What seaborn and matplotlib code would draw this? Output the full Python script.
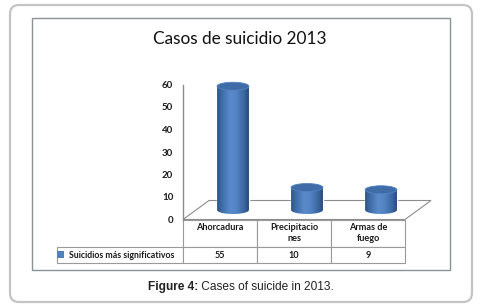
import numpy as np
import pandas as pd
import seaborn as sns
import matplotlib.pyplot as plt
from matplotlib.patches import Ellipse, Polygon, Rectangle, FancyBboxPatch
from matplotlib.transforms import offset_copy, IdentityTransform
from matplotlib.colors import LinearSegmentedColormap

# Datos del gráfico
categories = ["Ahorcadura", "Precipitaciones", "Armas de fuego"]
col_labels = ["Ahorcadura\n", "Precipitacio\nnes", "Armas de\nfuego"]
values = [55, 10, 9]
series_name = "Suicidios más significativos"
yticks = [0, 10, 20, 30, 40, 50, 60]
title = "Casos de suicidio 2013"
caption_bold = "Figure 4:"
caption_rest = " Cases of suicide in 2013."

sns.set_style("white")
plt.rcParams['font.family'] = ['Lato', 'DejaVu Sans']

W, H = 480, 307
fig = plt.figure(figsize=(W / 100, H / 100), dpi=100)


def box(x0, y0, x1, y1):
    # caja en pixeles (origen arriba a la izquierda) -> fracción de figura
    return [x0 / W, 1 - y1 / H, (x1 - x0) / W, (y1 - y0) / H]


# marcos exteriores
fig.patches.append(FancyBboxPatch((10, H - 302), 462, 297, boxstyle="round,pad=0,rounding_size=9",
                                  transform=IdentityTransform(), fc="none", ec="#c4c4c4", lw=1.6))
fig.patches.append(Rectangle((32, H - 270), 418, 252, transform=IdentityTransform(),
                             fc="none", ec="#8c9396", lw=1.0))

AX_W, AX_H = 222, 135
ax = fig.add_axes(box(183, 84.5, 183 + AX_W, 84.5 + AX_H))
df = pd.DataFrame({"cat": categories, "val": values})
sns.barplot(data=df, x="cat", y="val", ax=ax, color="#4F81BD", width=0.43, saturation=1)
ax.set_xlim(-0.5, 2.5)
ax.set_ylim(0, 60)

# profundidad 3D en pixeles
ux = AX_W / 3
uy = AX_H / 60
DX, DY = 26, 19

floor = Polygon([(-0.5, 0), (2.5, 0), (2.5 + DX / ux, DY / uy), (-0.5 + DX / ux, DY / uy)],
                closed=True, fc="white", ec="#8c8c8c", lw=0.8, clip_on=False, zorder=0.5)
ax.add_patch(floor)

cyl_cmap = LinearSegmentedColormap.from_list(
    "cyl", [(0, "#2E5487"), (0.15, "#3F6CA8"), (0.42, "#5B8BCB"), (0.6, "#5384C3"),
            (0.85, "#3C68A2"), (1, "#28497A")])
grad = np.linspace(0, 1, 64)[np.newaxis, :]
trans = offset_copy(ax.transData, fig=fig, x=DX / 2, y=DY / 2, units="dots")
eh = 8 / uy

for p in list(ax.patches):
    if p is floor:
        continue
    x0, w, h = p.get_x(), p.get_width(), p.get_height()
    xc = x0 + w / 2
    p.set_transform(trans)
    p.set_clip_on(False)
    p.set_zorder(1.5)
    t = np.linspace(np.pi, 2 * np.pi, 40)
    pts = [(xc + w / 2 * np.cos(a), eh / 2 * np.sin(a)) for a in t] + [(x0 + w, h), (x0, h)]
    clip = Polygon(pts, closed=True, transform=trans)
    im = ax.imshow(grad, cmap=cyl_cmap, extent=(x0, x0 + w, -eh / 2, h), aspect="auto",
                   interpolation="bicubic", zorder=2, transform=trans)
    im.set_clip_path(clip)
    ax.add_patch(Ellipse((xc, h), w, eh, transform=trans, fc="#3F6CA7", ec="#5283C2",
                         lw=0.6, zorder=3, clip_on=False))

ax.set_xlim(-0.5, 2.5)
ax.set_ylim(0, 60)
ax.set_yticks(yticks)
ax.set_xticks([])
ax.set_xlabel("")
ax.set_ylabel("")
ax.tick_params(axis="y", length=0, pad=7, labelsize=7, labelcolor="#1a1a1a")
for lab in ax.get_yticklabels():
    lab.set_fontweight("bold")
for s in ["top", "right", "bottom"]:
    ax.spines[s].set_visible(False)
ax.spines["left"].set_color("#8c8c8c")
ax.spines["left"].set_linewidth(1.0)
ax.patch.set_visible(False)

# tabla de datos (anchos y altos en unidades de ejes)
tbl = ax.table(cellText=[[str(v) for v in values]], rowLabels=[series_name], colLabels=col_labels,
               cellLoc="center", rowLoc="left",
               bbox=[0, (219.5 - 263) / AX_H, 1, (263 - 219.5) / AX_H])
tbl.auto_set_font_size(False)
for (r, c), cell in tbl.get_celld().items():
    cell.set_edgecolor("#9a9a9a")
    cell.set_linewidth(0.8)
    cell.set_width((128 if c == -1 else 74) / AX_W)
    cell.set_height((27.5 if r == 0 else 16) / AX_H)
    txt = cell.get_text()
    txt.set_fontsize(6.6)
    txt.set_fontweight("bold")
    txt.set_color("#1a1a1a")
    txt.set_linespacing(1.3)
    if c == -1:
        txt.set_fontsize(6.3)
        cell.PAD = 0.1

fig.patches.append(Rectangle((57, H - 257.5), 6.5, 6.5, transform=IdentityTransform(),
                             fc="#4F81BD", ec="none"))

fig.text(240 / W, 1 - 39 / H, title, ha="center", va="center", fontsize=12.4, color="#111111")

# pie de figura
renderer = fig.canvas.get_renderer()
t1 = fig.text(0, 1 - 290 / H, caption_bold, fontsize=8.6, fontweight="bold",
              family="Liberation Sans", color="#222222", va="baseline")
t2 = fig.text(0, 1 - 290 / H, caption_rest, fontsize=8.6,
              family="Liberation Sans", color="#222222", va="baseline")
w1 = t1.get_window_extent(renderer).width
w2 = t2.get_window_extent(renderer).width
start = 241 - (w1 + w2) / 2
t1.set_x(start / W)
t2.set_x((start + w1) / W)

fig.savefig("out.png", dpi=100)
